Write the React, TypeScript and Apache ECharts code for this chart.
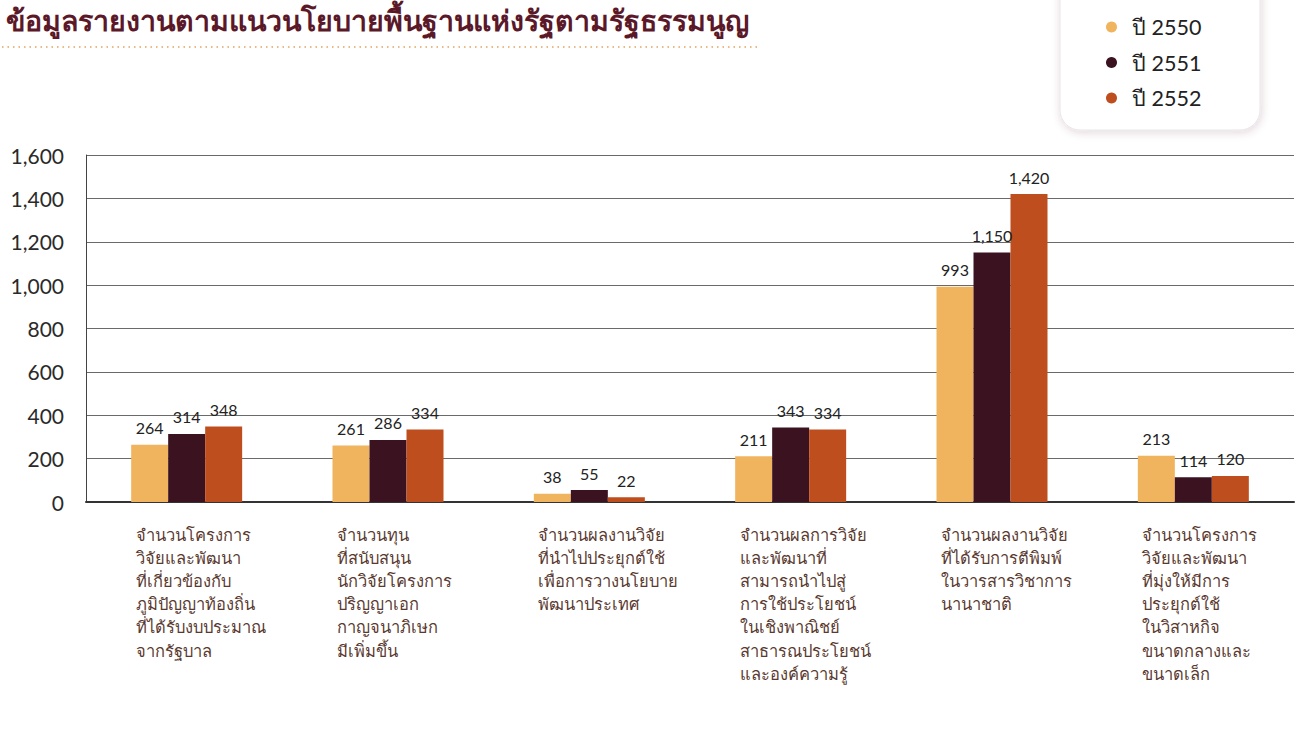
import React, { useEffect, useRef } from "react";
import * as echarts from "echarts";

const title = "ข้อมูลรายงานตามแนวนโยบายพื้นฐานแห่งรัฐตามรัฐธรรมนูญ";

const categories = [
  "จำนวนโครงการ\nวิจัยและพัฒนา\nที่เกี่ยวข้องกับ\nภูมิปัญญาท้องถิ่น\nที่ได้รับงบประมาณ\nจากรัฐบาล",
  "จำนวนทุน\nที่สนับสนุน\nนักวิจัยโครงการ\nปริญญาเอก\nกาญจนาภิเษก\nมีเพิ่มขึ้น",
  "จำนวนผลงานวิจัย\nที่นำไปประยุกต์ใช้\nเพื่อการวางนโยบาย\nพัฒนาประเทศ",
  "จำนวนผลการวิจัย\nและพัฒนาที่\nสามารถนำไปสู่\nการใช้ประโยชน์\nในเชิงพาณิชย์\nสาธารณประโยชน์\nและองค์ความรู้",
  "จำนวนผลงานวิจัย\nที่ได้รับการตีพิมพ์\nในวารสารวิชาการ\nนานาชาติ",
  "จำนวนโครงการ\nวิจัยและพัฒนา\nที่มุ่งให้มีการ\nประยุกต์ใช้\nในวิสาหกิจ\nขนาดกลางและ\nขนาดเล็ก",
];

const seriesNames = ["ปี 2550", "ปี 2551", "ปี 2552"];
const values2550 = [264, 261, 38, 211, 993, 213];
const values2551 = [314, 286, 55, 343, 1150, 114];
const values2552 = [348, 334, 22, 334, 1420, 120];
const yTicks = { min: 0, max: 1600, interval: 200 };

const colors = ["#F0B45E", "#3A1220", "#BF4E1E"];
const fmt = (v: number) => v.toLocaleString("en-US");

export default function App() {
  const ref = useRef<HTMLDivElement>(null);
  useEffect(() => {
    if (!ref.current) return;
    const chart = echarts.init(ref.current, undefined, { renderer: "svg" });
    const data = [values2550, values2551, values2552];
    chart.setOption({
      animation: false,
      backgroundColor: "#ffffff",
      textStyle: { fontFamily: "Lato, 'DejaVu Sans', sans-serif" },
      title: {
        text: title,
        left: 1,
        top: 0,
        textStyle: { fontSize: 28.5, fontWeight: "bold", color: "#5A1828" },
      },
      graphic: [
        {
          type: "line",
          shape: { x1: 2, y1: 47, x2: 760, y2: 47 },
          style: { stroke: "#E3A25C", lineWidth: 1.5, lineDash: [1.5, 4] },
        },
        {
          type: "rect",
          shape: { x: 1060, y: -30, width: 200, height: 160, r: 20 },
          style: {
            fill: "#ffffff",
            stroke: "#ebe5e8",
            lineWidth: 1,
            shadowBlur: 8,
            shadowColor: "rgba(80,40,60,0.18)",
            shadowOffsetX: 1,
            shadowOffsetY: 2,
          },
          z: -1,
        },
      ],
      legend: {
        orient: "vertical",
        left: 1101,
        top: 11,
        icon: "circle",
        itemWidth: 11,
        itemHeight: 11,
        itemGap: 13.5,
        textStyle: { fontSize: 21.5, lineHeight: 22, color: "#222", padding: [0, 0, 0, 10] },
        data: seriesNames,
      },
      grid: { left: 86, right: 10, top: 155, bottom: 228, containLabel: false },
      xAxis: {
        type: "category",
        data: categories,
        axisLine: { show: true, lineStyle: { color: "#333", width: 2 } },
        axisTick: { show: false },
        axisLabel: {
          interval: 0,
          margin: 21,
          formatter: (v: string) =>
            v
              .split("\n")
              .map((l) => "{a|" + l + "}")
              .join("\n"),
          rich: {
            a: {
              width: 102,
              align: "left",
              fontSize: 16.5,
              lineHeight: 23.2,
              color: "#5A3A30",
            },
          },
        },
      },
      yAxis: {
        type: "value",
        min: yTicks.min,
        max: yTicks.max,
        interval: yTicks.interval,
        axisLine: { show: true, lineStyle: { color: "#444", width: 1 } },
        axisTick: { show: false },
        splitLine: { lineStyle: { color: "#6a6a6a", width: 1 } },
        axisLabel: {
          fontSize: 21,
          color: "#2a2a2a",
          margin: 22,
          formatter: (v: number) => fmt(v),
        },
      },
      series: seriesNames.map((name, i) => ({
        name,
        type: "bar",
        data: data[i],
        barWidth: 37,
        barGap: "0%",
        itemStyle: { color: colors[i] },
        label: {
          show: true,
          position: "top",
          distance: 9,
          fontSize: 16,
          color: "#222",
          formatter: (p: any) => fmt(p.value),
        },
      })),
    });
    return () => chart.dispose();
  }, []);
  return (
    <div
      ref={ref}
      style={{ position: "absolute", left: 0, top: 0, width: 1304, height: 730 }}
    />
  );
}
